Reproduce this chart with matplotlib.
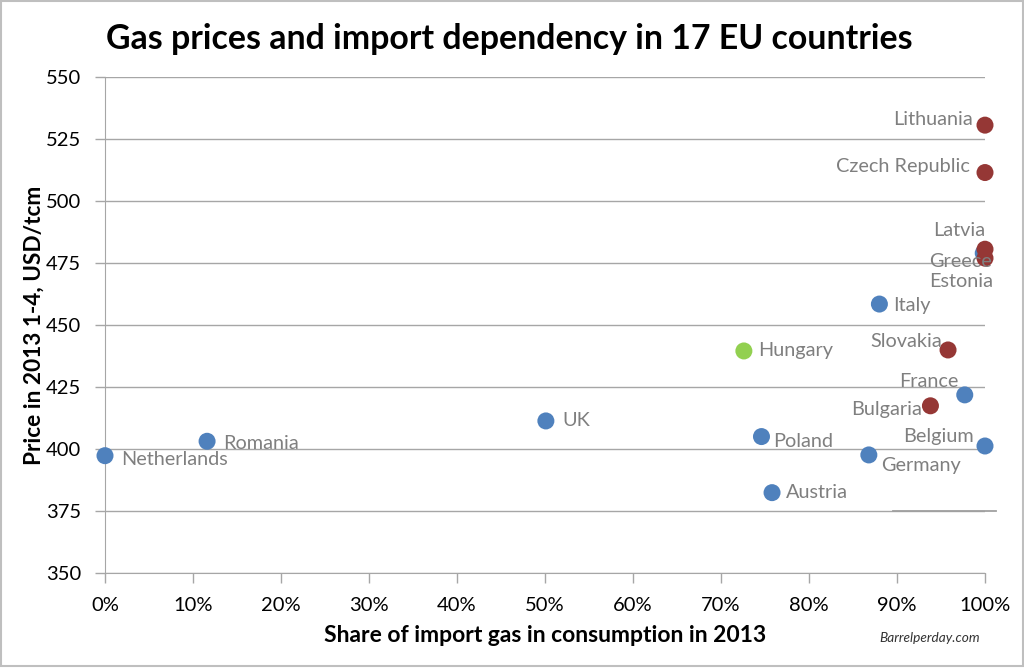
import numpy as np
import matplotlib.pyplot as plt
from matplotlib.patches import Rectangle

# share of imported gas (fraction) and price (USD/tcm)
countries = ['Netherlands', 'Romania', 'UK', 'Hungary', 'Poland', 'Austria',
             'Germany', 'Italy', 'Bulgaria', 'Slovakia', 'France', 'Belgium',
             'Estonia', 'Greece', 'Latvia', 'Czech Republic', 'Lithuania']
share = [0.0, 0.116, 0.501, 0.726, 0.746, 0.758,
         0.868, 0.880, 0.938, 0.958, 0.977, 1.0,
         0.998, 1.0, 1.0, 1.0, 1.0]
price = [397.4, 403.2, 411.4, 439.6, 405.1, 382.5,
         397.7, 458.5, 417.5, 440.0, 421.9, 401.3,
         479.0, 477.0, 480.6, 511.5, 530.6]
group = ['b', 'b', 'b', 'g', 'b', 'b',
         'b', 'b', 'r', 'r', 'b', 'b',
         'b', 'r', 'r', 'r', 'r']

colors = {'b': '#4F81BD', 'r': '#953735', 'g': '#92D050'}

# label offsets in pixels (dx, dy, horizontal alignment)
label_pos = {
    'Netherlands': (16, -4, 'left'),
    'Romania': (16, -2, 'left'),
    'UK': (16, 0, 'left'),
    'Hungary': (14, 0, 'left'),
    'Poland': (12, -5, 'left'),
    'Austria': (14, 0, 'left'),
    'Germany': (12, -11, 'left'),
    'Italy': (14, -1, 'left'),
    'Bulgaria': (-8, -4, 'right'),
    'Slovakia': (-6, 8, 'right'),
    'France': (-6, 13, 'right'),
    'Belgium': (-11, 9, 'right'),
    'Estonia': (10, -28, 'right'),
    'Greece': (7, -3, 'right'),
    'Latvia': (0, 19, 'right'),
    'Czech Republic': (-15, 6, 'right'),
    'Lithuania': (-12, 6, 'right'),
}

plt.rcParams['font.family'] = ['Lato', 'DejaVu Sans']

fig = plt.figure(figsize=(10.24, 6.68), dpi=100)
ax = fig.add_axes([105/1024, 1-573.3/668, 880/1024, 496.3/668])

grid_c = '#A6A6A6'
for s, p, g in zip(share, price, group):
    ax.scatter(s, p, s=150, color=colors[g], edgecolors='none', zorder=3, clip_on=False)

for c, s, p in zip(countries, share, price):
    dx, dy, ha = label_pos[c]
    ax.annotate(c, (s, p), xytext=(dx, dy), textcoords='offset pixels',
                ha=ha, va='center', fontsize=14.3, color='#7F7F7F', zorder=4)

ax.set_xlim(0, 1)
ax.set_ylim(350, 550)
ax.set_yticks(np.arange(350, 551, 25))
ax.set_xticks(np.arange(0, 1.01, 0.1))
ax.set_xticklabels([f'{int(round(v*100))}%' for v in np.arange(0, 1.01, 0.1)])
ax.tick_params(axis='both', labelsize=14.5, colors=grid_c, labelcolor='black', length=7, width=1)
ax.tick_params(axis='x', pad=10)
ax.tick_params(axis='y', pad=10)
ax.yaxis.grid(True, color=grid_c, linewidth=1)
ax.set_axisbelow(True)
for side in ['top', 'right']:
    ax.spines[side].set_visible(False)
for side in ['left', 'bottom']:
    ax.spines[side].set_color(grid_c)

# stray gridline stub at 375 that runs past the plot edge in the original
ax.plot([0.895, 1.012], [375, 375], color='#A0A0A0', linewidth=1.3, clip_on=False, zorder=1)

ax.set_xlabel('Share of import gas in consumption in 2013', fontsize=16.5, fontweight='bold', labelpad=8)
ax.set_ylabel('Price in 2013 1-4, USD/tcm', fontsize=16.3, fontweight='bold', labelpad=1)

fig.text(0.497, 0.942, 'Gas prices and import dependency in 17 EU countries',
         ha='center', va='center', fontsize=24.4, fontweight='bold')
fig.text(0.908, 0.045, 'Barrelperday.com', ha='center', va='center',
         fontsize=9.8, style='italic', color='#333333')

fig.patches.append(Rectangle((0.001, 0.003), 0.998, 0.995, transform=fig.transFigure,
                             fill=False, edgecolor='#BFBFBF', linewidth=1.5))

plt.savefig('out.png', dpi=100)
